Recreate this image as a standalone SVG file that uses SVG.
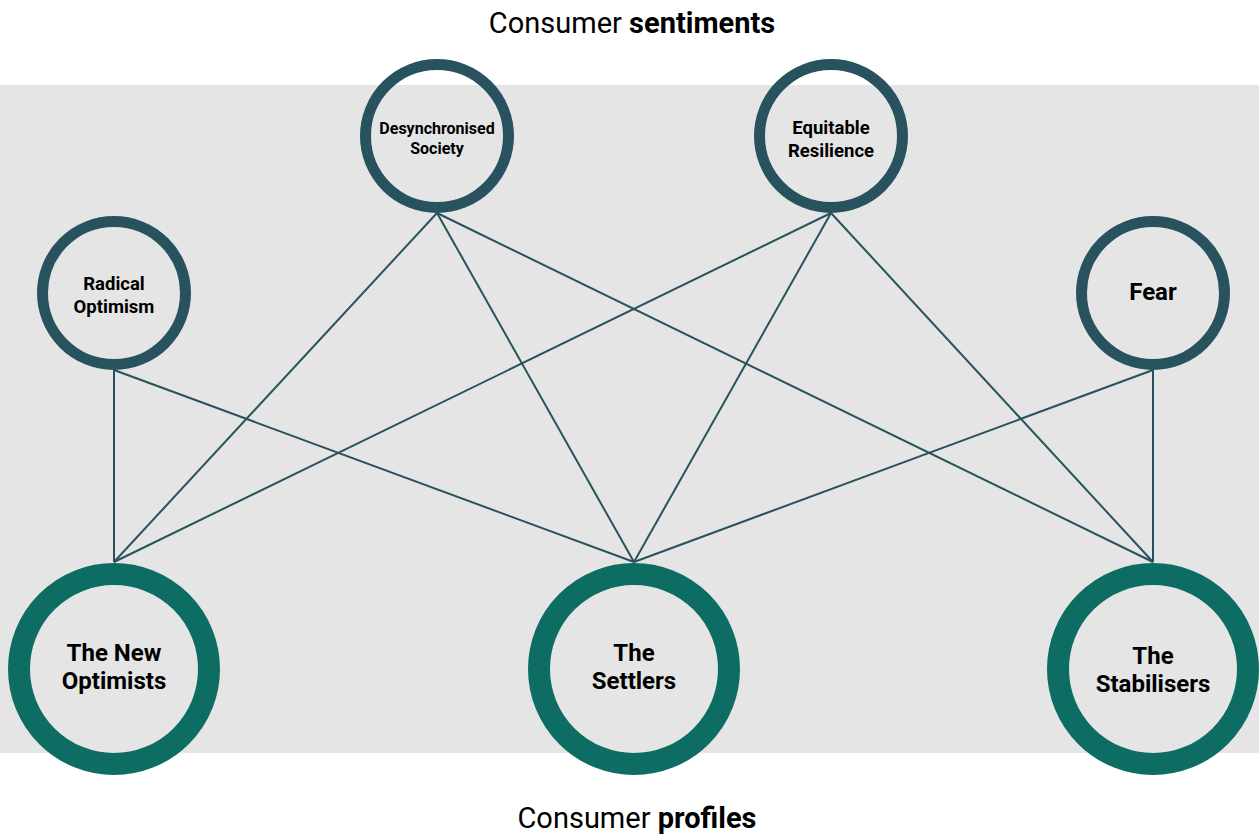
<svg xmlns="http://www.w3.org/2000/svg" width="1259" height="835" viewBox="0 0 1259 835">
<style>
.sent{fill:none;stroke:#28525e;stroke-width:11}
.prof{fill:none;stroke:#0e6d62;stroke-width:22}
.lbl{font-family:Roboto,"Liberation Sans",sans-serif;font-weight:700;fill:#000;text-anchor:middle}
.title{font-family:Roboto,"Liberation Sans",sans-serif;font-size:29px;fill:#000;text-anchor:middle}
#connectors line{stroke:#28525e;stroke-width:2}
</style>
<rect x="0" y="0" width="1259" height="835" fill="#fff"/>
<rect x="0" y="85" width="1259" height="668" fill="#e5e5e5"/>
<text class="title" x="632" y="33">Consumer <tspan font-weight="700">sentiments</tspan></text>
<text class="title" x="637" y="828">Consumer <tspan font-weight="700">profiles</tspan></text>
<g id="connectors">
<line x1="114" y1="370" x2="114" y2="562"/>
<line x1="114" y1="370" x2="634" y2="562"/>
<line x1="437" y1="213" x2="114" y2="562"/>
<line x1="437" y1="213" x2="634" y2="562"/>
<line x1="437" y1="213" x2="1153" y2="562"/>
<line x1="831" y1="213" x2="114" y2="562"/>
<line x1="831" y1="213" x2="634" y2="562"/>
<line x1="831" y1="213" x2="1153" y2="562"/>
<line x1="1153" y1="370" x2="634" y2="562"/>
<line x1="1153" y1="370" x2="1153" y2="562"/>
</g>
<g id="desynchronised-society">
<circle class="sent" cx="437" cy="136" r="71.5"/>
<text class="lbl" x="437" y="134" font-size="16">Desynchronised</text>
<text class="lbl" x="437" y="154" font-size="16">Society</text>
</g>
<g id="equitable-resilience">
<circle class="sent" cx="831" cy="136" r="71.5"/>
<text class="lbl" x="831" y="134" font-size="18.5">Equitable</text>
<text class="lbl" x="831" y="157" font-size="18.5">Resilience</text>
</g>
<g id="radical-optimism">
<circle class="sent" cx="114" cy="293" r="71.5"/>
<text class="lbl" x="114" y="290" font-size="18.5">Radical</text>
<text class="lbl" x="114" y="313" font-size="18.5">Optimism</text>
</g>
<g id="fear">
<circle class="sent" cx="1153" cy="293" r="71.5"/>
<text class="lbl" x="1153" y="300" font-size="24">Fear</text>
</g>
<g id="new-optimists">
<circle class="prof" cx="114" cy="669" r="95"/>
<text class="lbl" x="114" y="661" font-size="24">The New</text>
<text class="lbl" x="114" y="689" font-size="24">Optimists</text>
</g>
<g id="settlers">
<circle class="prof" cx="634" cy="669" r="95"/>
<text class="lbl" x="634" y="661" font-size="24">The</text>
<text class="lbl" x="634" y="689" font-size="24">Settlers</text>
</g>
<g id="stabilisers">
<circle class="prof" cx="1153" cy="669" r="95"/>
<text class="lbl" x="1153" y="664" font-size="24">The</text>
<text class="lbl" x="1153" y="692" font-size="24">Stabilisers</text>
</g>
</svg>
